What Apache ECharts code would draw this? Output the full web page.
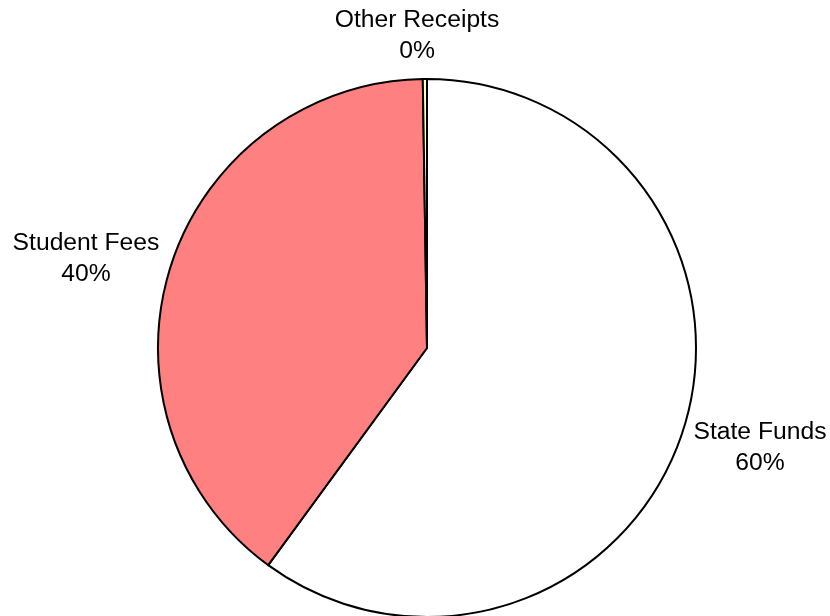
<!DOCTYPE html>
<html>
<head>
<meta charset="utf-8">
<script src="https://cdn.jsdelivr.net/npm/echarts@6/dist/echarts.min.js"></script>
<style>
  html, body { margin: 0; padding: 0; background: #ffffff; }
  #chart { width: 830px; height: 616px; }
</style>
</head>
<body>
<div id="chart"></div>
<script>
// Funding sources (share of total receipts)
const categories = ['State Funds', 'Student Fees', 'Other Receipts'];
const values = [60.05, 39.7, 0.25];
const sliceColors = ['#FFFFFF', '#FF8080', '#FFFFC8'];

// Where each label block sits (centre of the two-line text)
const labelAnchors = [
  [760, 447.5],
  [86, 258.5],
  [417, 36]
];

const chart = echarts.init(document.getElementById('chart'), null, { renderer: 'canvas' });

chart.setOption({
  backgroundColor: '#ffffff',
  animation: false,
  series: [{
    type: 'pie',
    center: [427, 348],
    radius: 269,
    startAngle: 90,
    clockwise: true,
    percentPrecision: 0,
    avoidLabelOverlap: false,
    data: categories.map((name, i) => ({
      name: name,
      value: values[i],
      itemStyle: { color: sliceColors[i] }
    })),
    itemStyle: {
      borderColor: '#000000',
      borderWidth: 2
    },
    emphasis: { disabled: true },
    label: {
      show: true,
      position: 'outside',
      formatter: '{b}\n{d}%',
      color: '#000000',
      fontFamily: '"Liberation Sans", Arial, sans-serif',
      fontSize: 24.7,
      lineHeight: 31,
      align: 'center'
    },
    labelLine: { show: false },
    labelLayout: function (params) {
      const p = labelAnchors[params.dataIndex];
      return { x: p[0], y: p[1], align: 'center', verticalAlign: 'middle' };
    }
  }]
});
</script>
</body>
</html>
